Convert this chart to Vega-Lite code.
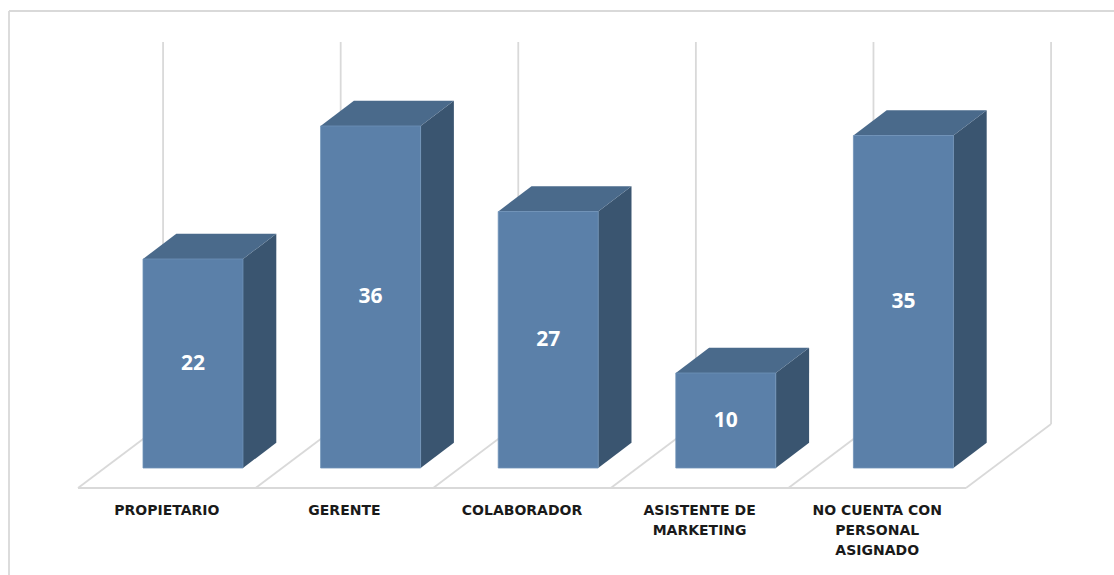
{
  "$schema": "https://vega.github.io/schema/vega-lite/v6.json",
  "width": 1114,
  "height": 575,
  "padding": 0,
  "autosize": {"type": "none"},
  "background": "white",
  "config": {"view": {"stroke": null}, "axis": {"disable": true}},
  "data": {
    "values": [
      {"categoria": "PROPIETARIO", "etiqueta": "PROPIETARIO", "valor": 22},
      {"categoria": "GERENTE", "etiqueta": "GERENTE", "valor": 36},
      {"categoria": "COLABORADOR", "etiqueta": "COLABORADOR", "valor": 27},
      {"categoria": "ASISTENTE DE MARKETING", "etiqueta": "ASISTENTE DE\nMARKETING", "valor": 10},
      {"categoria": "NO CUENTA CON PERSONAL ASIGNADO", "etiqueta": "NO CUENTA CON\nPERSONAL\nASIGNADO", "valor": 35}
    ]
  },
  "transform": [
    {"window": [{"op": "row_number", "as": "n"}]},
    {"calculate": "datum.n - 1", "as": "k"},
    {"calculate": "datum.k + 0.366", "as": "x0"},
    {"calculate": "datum.k + 0.929", "as": "x1"}
  ],
  "layer": [
    {
      "data": {"values": [{"borde": "superior"}]},
      "mark": {"type": "rule", "color": "#d9d9d9", "strokeWidth": 1.8},
      "encoding": {
        "x": {"datum": -0.3885, "type": "quantitative", "scale": {"domain": [-0.4392, 5.8333], "nice": false, "zero": false}},
        "x2": {"datum": 5.8333},
        "y": {"datum": 48.105, "type": "quantitative", "scale": {"domain": [-11.263, 49.263], "nice": false, "zero": false}}
      }
    },
    {
      "data": {"values": [{"borde": "izquierdo"}]},
      "mark": {"type": "rule", "color": "#d9d9d9", "strokeWidth": 1.8},
      "encoding": {
        "x": {"datum": -0.3885, "type": "quantitative", "scale": {"domain": [-0.4392, 5.8333], "nice": false, "zero": false}},
        "y": {"datum": 48.105, "type": "quantitative", "scale": {"domain": [-11.263, 49.263], "nice": false, "zero": false}},
        "y2": {"datum": -11.263}
      }
    },
    {
      "transform": [
        {"calculate": "datum.k == 4 ? [datum.k, datum.k + 1] : [datum.k]", "as": "g"},
        {"flatten": ["g"]},
        {"calculate": "datum.g + 0.479", "as": "gx"}
      ],
      "mark": {"type": "rule", "color": "#d9d9d9", "strokeWidth": 1.8},
      "encoding": {
        "x": {"field": "gx", "type": "quantitative", "scale": {"domain": [-0.4392, 5.8333], "nice": false, "zero": false}},
        "y": {"datum": 4.632, "type": "quantitative", "scale": {"domain": [-11.263, 49.263], "nice": false, "zero": false}},
        "y2": {"datum": 44.84}
      }
    },
    {
      "transform": [
        {"calculate": "datum.k == 4 ? [datum.k, datum.k + 1] : [datum.k]", "as": "g"},
        {"flatten": ["g"]},
        {"calculate": "datum.g + 0.479", "as": "gx"}
      ],
      "mark": {"type": "rule", "color": "#d9d9d9", "strokeWidth": 1.8},
      "encoding": {
        "x": {"field": "g", "type": "quantitative", "scale": {"domain": [-0.4392, 5.8333], "nice": false, "zero": false}},
        "x2": {"field": "gx"},
        "y": {"datum": -2.105, "type": "quantitative", "scale": {"domain": [-11.263, 49.263], "nice": false, "zero": false}},
        "y2": {"datum": 4.632}
      }
    },
    {
      "data": {"values": [{"borde": "piso"}]},
      "mark": {"type": "rule", "color": "#d9d9d9", "strokeWidth": 1.8},
      "encoding": {
        "x": {"datum": 0, "type": "quantitative", "scale": {"domain": [-0.4392, 5.8333], "nice": false, "zero": false}},
        "x2": {"datum": 5},
        "y": {"datum": -2.105, "type": "quantitative", "scale": {"domain": [-11.263, 49.263], "nice": false, "zero": false}}
      }
    },
    {
      "transform": [
        {"calculate": "[0, 1]", "as": "p"},
        {"flatten": ["p"]},
        {"calculate": "datum.x1 + datum.p * 0.1875", "as": "sx"},
        {"calculate": "datum.valor + datum.p * 2.663", "as": "sy"},
        {"calculate": "datum.p * 2.663", "as": "sy2"}
      ],
      "mark": {"type": "area", "orient": "vertical", "color": "#3a5570", "opacity": 1},
      "encoding": {
        "x": {"field": "sx", "type": "quantitative", "scale": {"domain": [-0.4392, 5.8333], "nice": false, "zero": false}},
        "y": {"field": "sy", "type": "quantitative", "stack": null, "scale": {"domain": [-11.263, 49.263], "nice": false, "zero": false}},
        "y2": {"field": "sy2"},
        "detail": {"field": "categoria"}
      }
    },
    {
      "transform": [
        {"calculate": "[0, 1, 2, 3]", "as": "p"},
        {"flatten": ["p"]},
        {"calculate": "datum.p == 0 ? datum.x0 : datum.p == 1 ? datum.x0 + 0.1875 : datum.p == 2 ? datum.x1 : datum.x1 + 0.1875", "as": "tx"},
        {"calculate": "datum.p == 0 ? datum.valor : datum.valor + 2.663", "as": "ty"},
        {"calculate": "datum.p == 3 ? datum.valor + 2.663 : datum.valor", "as": "ty2"}
      ],
      "mark": {"type": "area", "orient": "vertical", "color": "#4a6a8b", "opacity": 1},
      "encoding": {
        "x": {"field": "tx", "type": "quantitative", "scale": {"domain": [-0.4392, 5.8333], "nice": false, "zero": false}},
        "y": {"field": "ty", "type": "quantitative", "stack": null, "scale": {"domain": [-11.263, 49.263], "nice": false, "zero": false}},
        "y2": {"field": "ty2"},
        "detail": {"field": "categoria"}
      }
    },
    {
      "mark": {"type": "rect", "color": "#5b80a9", "stroke": "#6f92b8", "strokeWidth": 0.8},
      "encoding": {
        "x": {"field": "x0", "type": "quantitative", "scale": {"domain": [-0.4392, 5.8333], "nice": false, "zero": false}},
        "x2": {"field": "x1"},
        "y": {"field": "valor", "type": "quantitative", "scale": {"domain": [-11.263, 49.263], "nice": false, "zero": false}},
        "y2": {"datum": 0}
      }
    },
    {
      "transform": [
        {"calculate": "(datum.x0 + datum.x1) / 2", "as": "cx"},
        {"calculate": "datum.valor / 2", "as": "cy"}
      ],
      "mark": {"type": "text", "color": "white", "font": "Open Sans", "fontWeight": "bold", "fontSize": 21, "align": "center", "baseline": "middle"},
      "encoding": {
        "x": {"field": "cx", "type": "quantitative", "scale": {"domain": [-0.4392, 5.8333], "nice": false, "zero": false}},
        "y": {"field": "cy", "type": "quantitative", "scale": {"domain": [-11.263, 49.263], "nice": false, "zero": false}},
        "text": {"field": "valor", "type": "quantitative"}
      }
    },
    {
      "transform": [
        {"calculate": "datum.k + 0.5", "as": "lx"}
      ],
      "mark": {"type": "text", "color": "#1a1a1a", "font": "DejaVu Sans", "fontWeight": "bold", "fontSize": 14, "align": "center", "baseline": "alphabetic", "lineBreak": "\n", "lineHeight": 20},
      "encoding": {
        "x": {"field": "lx", "type": "quantitative", "scale": {"domain": [-0.4392, 5.8333], "nice": false, "zero": false}},
        "y": {"datum": -4.947, "type": "quantitative", "scale": {"domain": [-11.263, 49.263], "nice": false, "zero": false}},
        "text": {"field": "etiqueta", "type": "nominal"}
      }
    }
  ]
}
